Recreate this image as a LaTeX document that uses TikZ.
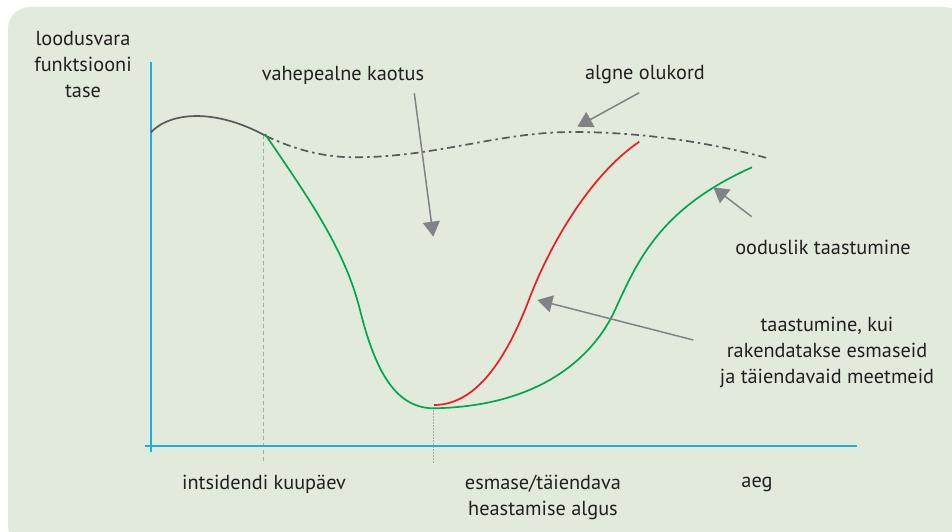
\documentclass[tikz,border=0pt]{standalone}
\usepackage{fontspec}
\setmainfont{PT Sans}
\usetikzlibrary{arrows.meta}
\definecolor{bg}{HTML}{E1EADB}
\definecolor{axisblue}{HTML}{1BAEE6}
\definecolor{curvegreen}{HTML}{00A651}
\definecolor{curvered}{HTML}{ED1C24}
\definecolor{curvegray}{HTML}{58595B}
\definecolor{arrowgray}{HTML}{808285}
\definecolor{guidegray}{HTML}{A7A9AC}
\definecolor{txt}{HTML}{231F20}
\tikzset{
  lbl/.style={inner sep=0pt, align=center, text=txt, font=\fontsize{20.3}{26}\selectfont},
  axisline/.style={draw=axisblue, line width=2pt},
  pointer/.style={draw=arrowgray, line width=1.5pt, -{Triangle[length=15pt,width=17pt]}},
  guide/.style={draw=guidegray, line width=1.3pt, dash pattern=on 4pt off 3pt},
  fineguide/.style={draw=guidegray, line width=1pt, dash pattern=on 1.5pt off 1.5pt},
  curve/.style={line width=1.7pt}
}
\begin{document}
\begin{tikzpicture}[x=1pt,y=-1pt]
\useasboundingbox (0,0) rectangle (952,532);
\clip (0,0) rectangle (952,532);
\fill[bg, rounded corners=22pt] (8,7) rectangle (966,548);

% guides
\coordinate (g1t) at (263.3,135);
\coordinate (g1b) at (263.3,463);
\coordinate (g2t) at (433.6,410);
\coordinate (g2b) at (433.6,463);
\draw[guide] (g1t) -- (g1b);
\draw[fineguide] (g2t) -- (g2b);

% axes
\coordinate (ytop) at (151,62);
\coordinate (ybot) at (151,452);
\coordinate (xl) at (145,446);
\coordinate (xr) at (857,446);
\draw[axisline] (ytop) -- (ybot);
\draw[axisline] (xl) -- (xr);

% curves
\coordinate (c0) at (151,132.3);
\coordinate (cj) at (266,136);
\coordinate (dmin) at (360,157.3);
\coordinate (dpk) at (573,132);
\coordinate (dend) at (768,158.3);
\coordinate (gs) at (265,134);
\coordinate (gi) at (360,310);
\coordinate (gmin) at (434,408.3);
\coordinate (gi2) at (615,310);
\coordinate (gend) at (752,167.3);
\coordinate (rs) at (434,405);
\coordinate (ri) at (530,297);
\coordinate (rend) at (639.3,141.7);

\draw[curve, draw=curvegray] (c0) .. controls (170,112) and (215,108) .. (cj);
\draw[curve, draw=curvegray, dash pattern=on 8pt off 4pt on 2.5pt off 4pt]
  (cj) .. controls (300,152) and (330,158) .. (dmin)
       .. controls (440,156) and (500,132) .. (dpk)
       .. controls (650,132) and (720,145) .. (dend);
\draw[curve, draw=curvegreen]
  (gs) .. controls (310,200) and (345,250) .. (gi)
       .. controls (375,370) and (395,408.3) .. (gmin)
       .. controls (555,406) and (600,343) .. (gi2)
       .. controls (638,259.4) and (661,208) .. (gend);
\draw[curve, draw=curvered]
  (rs) .. controls (480,405) and (510,350) .. (ri)
       .. controls (550,245) and (590,175) .. (rend);

% labels
\node[lbl] (ylab) at (83,65) {loodusvara\\funktsiooni\\tase};
\node[lbl] (loss) at (343,75) {vahepealne kaotus};
\node[lbl] (orig) at (645,75) {algne olukord};
\node[lbl] (nat) at (823,247) {ooduslik taastumine};
\node[lbl] (rest) at (827,352) {taastumine, kui\\rakendatakse esmaseid\\ja täiendavaid meetmeid};
\node[lbl] (inc) at (264,484) {intsidendi kuupäev};
\node[lbl] (start) at (543,497) {esmase/täiendava\\heastamise algus};
\node[lbl] (time) at (757,484) {aeg};

% pointers
\coordinate (p1s) at (414.3,93.3);
\coordinate (p1e) at (433.3,236.7);
\coordinate (p2s) at (639.3,92.7);
\coordinate (p2e) at (577.3,126.7);
\coordinate (p3s) at (751.7,216.7);
\coordinate (p3e) at (713.3,187.3);
\coordinate (p4s) at (693.3,340);
\coordinate (p4e) at (537.3,300);
\draw[pointer] (p1s) -- (p1e);
\draw[pointer] (p2s) -- (p2e);
\draw[pointer] (p3s) -- (p3e);
\draw[pointer] (p4s) -- (p4e);
\end{tikzpicture}
\end{document}
